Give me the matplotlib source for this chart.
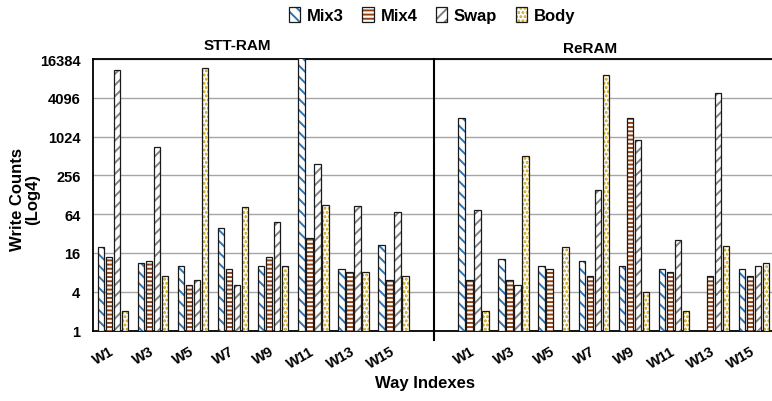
import numpy as np
import matplotlib
matplotlib.use("Agg")
import matplotlib.pyplot as plt
from matplotlib.patches import Patch
from matplotlib.legend_handler import HandlerTuple
import matplotlib.transforms as mtransforms

plt.rcParams['font.family'] = ['Liberation Sans', 'DejaVu Sans']
plt.rcParams['font.weight'] = 'bold'
plt.rcParams['hatch.linewidth'] = 1.4

# ---- data ----
categories = ['W1', 'W3', 'W5', 'W7', 'W9', 'W11', 'W13', 'W15']
panels = ['STT-RAM', 'ReRAM']
series = ['Mix3', 'Mix4', 'Swap', 'Body']
nan = np.nan
stt_mix3 = [20, 11, 10, 39, 10, 20000, 9, 21]
stt_mix4 = [14, 12, 5, 9, 14, 27, 8, 6]
stt_swap = [11000, 710, 6, 5, 48, 380, 85, 70]
stt_body = [2, 7, 12000, 83, 10, 88, 8, 7]
re_mix3 = [2000, 13, 10, 12, 10, 9, nan, 9]
re_mix4 = [6, 6, 9, 7, 2000, 8, 7, 7]
re_swap = [74, 5, nan, 153, 900, 25, 4900, 10]
re_body = [2, 520, 20, 9400, 4, 2, 20.6, 11]
y_ticks = [1, 4, 16, 64, 256, 1024, 4096, 16384]

# ---- styles ----
hatch_colors = ['#2E75B6', '#944010', '#808080', '#C9A000']
hatches = ['\\\\\\', '----', '///', '....']

W, H = 772, 402
fig = plt.figure(figsize=(W / 100, H / 100), dpi=100)
ax_left, ax_right = 93, 774
ax_top, ax_bot = 60, 331.5
ax = fig.add_axes([ax_left / W, (H - ax_bot) / H, (ax_right - ax_left) / W, (ax_bot - ax_top) / H])

n = len(categories)
x_stt = np.arange(n)
x_re = np.arange(n) + n + 1
xs = np.concatenate([x_stt, x_re])
data = [np.array(stt_mix3 + re_mix3, float), np.array(stt_mix4 + re_mix4, float),
        np.array(stt_swap + re_swap, float), np.array(stt_body + re_body, float)]

bw = 0.16
offs = [-0.3, -0.1, 0.1, 0.3]
for i in range(4):
    vals = data[i]
    ax.bar(xs + offs[i], vals - 1, bottom=1, width=bw, facecolor='white',
           edgecolor=hatch_colors[i], hatch=hatches[i], linewidth=0, zorder=3)
    ax.bar(xs + offs[i], vals - 1, bottom=1, width=bw, facecolor='none',
           edgecolor='#1a1a1a', linewidth=0.9, zorder=4)

ax.set_yscale('log', base=4)
ax.set_ylim(1, 16384)
ax.set_xlim(-0.5, 2 * n + 0.5)
ax.set_yticks(y_ticks)
ax.set_yticklabels([str(v) for v in y_ticks])
ax.yaxis.set_minor_locator(matplotlib.ticker.NullLocator())
ax.grid(axis='y', color='#A6A6A6', linewidth=1.0, zorder=0)
ax.set_axisbelow(True)
ax.tick_params(axis='y', length=0, pad=9, labelsize=10.5)
ax.set_xticks(xs)
ax.set_xticklabels(categories + categories, rotation=30, ha='right', va='center',
                   rotation_mode='anchor', fontsize=10.5)
ax.tick_params(axis='x', length=0, pad=14)
for s in ['left', 'bottom', 'top']:
    ax.spines[s].set_color('black')
    ax.spines[s].set_linewidth(1.3)
ax.spines['right'].set_visible(False)

# divider between panels
trans = mtransforms.blended_transform_factory(ax.transData, ax.transAxes)
ax.plot([n, n], [-0.035, 1], transform=trans, color='black', linewidth=1.5,
        clip_on=False, zorder=5)

# panel titles
ax.text(3.1, 1.025, panels[0], transform=trans, ha='center', va='bottom', fontsize=11)
ax.text(11.9, 1.015, panels[1], transform=trans, ha='center', va='bottom', fontsize=11)

fig.text(25 / W, 1 - 200 / H, 'Write Counts\n(Log4)', rotation=90, ha='center',
         va='center', fontsize=12, multialignment='center', linespacing=1.0)
fig.text(425 / W, 1 - 384 / H, 'Way Indexes', ha='center', va='center', fontsize=12)

handles = []
for i in range(4):
    h1 = Patch(facecolor='white', edgecolor=hatch_colors[i], hatch=hatches[i], linewidth=0)
    h2 = Patch(facecolor='none', edgecolor='#1a1a1a', linewidth=0.9)
    handles.append((h1, h2))
fig.legend(handles, series, loc='center', bbox_to_anchor=(432 / W, 1 - 16 / H), ncol=4,
           frameon=False, handler_map={tuple: HandlerTuple(ndivide=1)},
           handlelength=0.7, handleheight=1.0, handletextpad=0.4, columnspacing=1.1,
           fontsize=12)

fig.savefig('out.png', dpi=100)
